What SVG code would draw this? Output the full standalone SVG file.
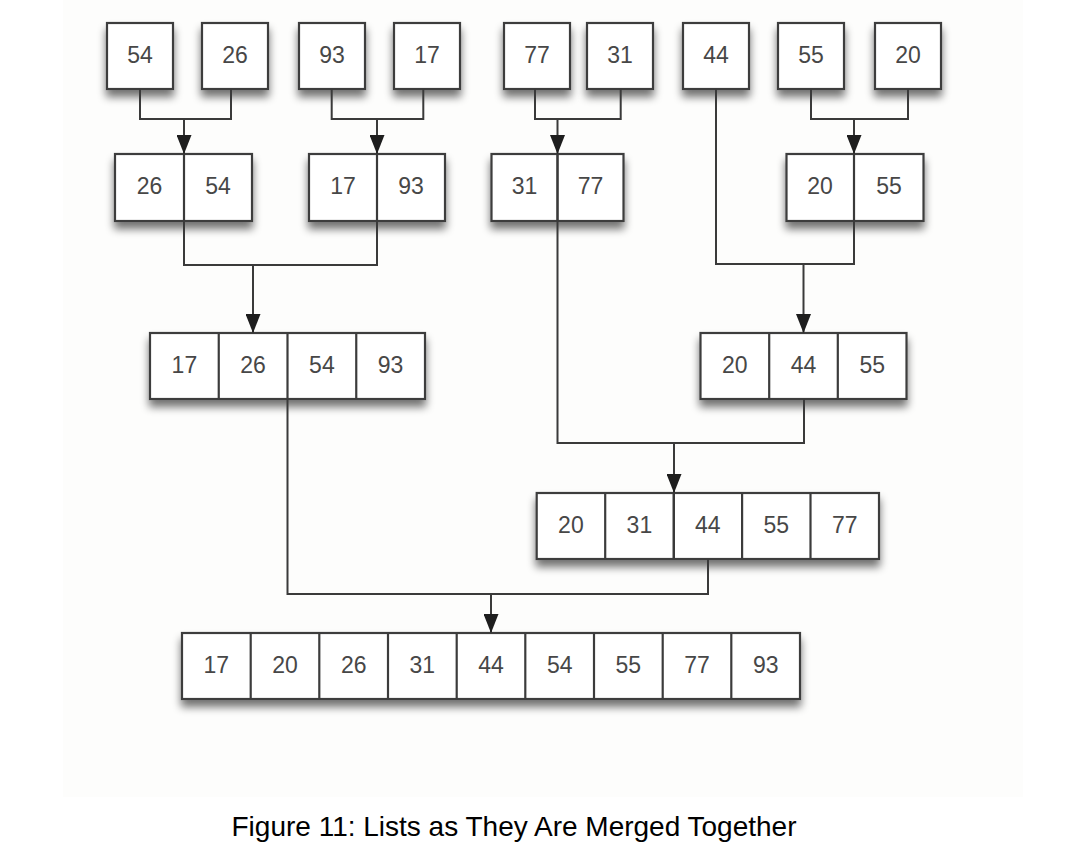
<svg xmlns="http://www.w3.org/2000/svg" width="1086" height="858" viewBox="0 0 1086 858">
<defs>
<style>
.box{fill:#ffffff;stroke:#3c3c3c;stroke-width:2.2;filter:url(#sh)}
.div{stroke:#3c3c3c;stroke-width:2.2}
.n{font-family:"Liberation Sans",Arial,sans-serif;font-size:23px;fill:#474747;text-anchor:middle}
.c{fill:none;stroke:#3a3a3a;stroke-width:2}
.cap{font-family:"Liberation Sans",Arial,sans-serif;font-size:28px;fill:#000000;text-anchor:middle}
</style>
<filter id="sh" x="-20%" y="-20%" width="140%" height="170%">
<feGaussianBlur in="SourceAlpha" stdDeviation="4.5"/>
<feOffset dy="7"/>
<feComponentTransfer><feFuncA type="linear" slope="0.55"/></feComponentTransfer>
<feMerge><feMergeNode/><feMergeNode in="SourceGraphic"/></feMerge>
</filter>
<marker id="arr" markerWidth="19" markerHeight="15" refX="19" refY="7.5" orient="auto" markerUnits="userSpaceOnUse" viewBox="0 0 19 15">
<path d="M0,0 L19,7.5 L0,15 z" fill="#1e1e1e"/>
</marker>
</defs>
<rect x="0" y="0" width="1086" height="858" fill="#ffffff"/>
<rect x="63" y="0" width="960" height="797" fill="#fdfdfc"/>

<g id="r1-54"><rect class="box" x="107" y="23" width="66" height="66"/><text class="n" x="140" y="63">54</text></g>
<g id="r1-26"><rect class="box" x="202" y="23" width="66" height="66"/><text class="n" x="235" y="63">26</text></g>
<g id="r1-93"><rect class="box" x="299" y="23" width="66" height="66"/><text class="n" x="332" y="63">93</text></g>
<g id="r1-17"><rect class="box" x="394" y="23" width="66" height="66"/><text class="n" x="427" y="63">17</text></g>
<g id="r1-77"><rect class="box" x="504" y="23" width="66" height="66"/><text class="n" x="537" y="63">77</text></g>
<g id="r1-31"><rect class="box" x="587" y="23" width="66" height="66"/><text class="n" x="620" y="63">31</text></g>
<g id="r1-44"><rect class="box" x="683" y="23" width="66" height="66"/><text class="n" x="716" y="63">44</text></g>
<g id="r1-55"><rect class="box" x="778" y="23" width="66" height="66"/><text class="n" x="811" y="63">55</text></g>
<g id="r1-20"><rect class="box" x="875" y="23" width="66" height="66"/><text class="n" x="908" y="63">20</text></g>

<g id="r2-26-54"><rect class="box" x="115" y="154" width="137" height="67"/><line class="div" x1="184" y1="154" x2="184" y2="221"/>
<text class="n" x="149.5" y="194">26</text><text class="n" x="218" y="194">54</text></g>
<g id="r2-17-93"><rect class="box" x="309" y="154" width="136" height="67"/><line class="div" x1="377" y1="154" x2="377" y2="221"/>
<text class="n" x="343" y="194">17</text><text class="n" x="411" y="194">93</text></g>
<g id="r2-31-77"><rect class="box" x="491.5" y="154" width="132" height="67"/><line class="div" x1="557.5" y1="154" x2="557.5" y2="221"/>
<text class="n" x="524.5" y="194">31</text><text class="n" x="590.5" y="194">77</text></g>
<g id="r2-20-55"><rect class="box" x="786.5" y="154" width="137" height="67"/><line class="div" x1="854" y1="154" x2="854" y2="221"/>
<text class="n" x="820" y="194">20</text><text class="n" x="889" y="194">55</text></g>

<g id="r3-left"><rect class="box" x="150" y="333" width="275" height="66"/>
<line class="div" x1="218.75" y1="333" x2="218.75" y2="399"/><line class="div" x1="287.5" y1="333" x2="287.5" y2="399"/><line class="div" x1="356.25" y1="333" x2="356.25" y2="399"/>
<text class="n" x="184.4" y="373">17</text><text class="n" x="253.1" y="373">26</text><text class="n" x="321.9" y="373">54</text><text class="n" x="390.6" y="373">93</text></g>
<g id="r3-right"><rect class="box" x="700.5" y="333" width="206" height="66"/>
<line class="div" x1="769.2" y1="333" x2="769.2" y2="399"/><line class="div" x1="837.8" y1="333" x2="837.8" y2="399"/>
<text class="n" x="734.8" y="373">20</text><text class="n" x="803.5" y="373">44</text><text class="n" x="872.2" y="373">55</text></g>

<g id="r4"><rect class="box" x="536.7" y="493" width="342.3" height="66"/>
<line class="div" x1="605.2" y1="493" x2="605.2" y2="559"/><line class="div" x1="673.6" y1="493" x2="673.6" y2="559"/><line class="div" x1="742.1" y1="493" x2="742.1" y2="559"/><line class="div" x1="810.5" y1="493" x2="810.5" y2="559"/>
<text class="n" x="570.9" y="533">20</text><text class="n" x="639.4" y="533">31</text><text class="n" x="707.8" y="533">44</text><text class="n" x="776.3" y="533">55</text><text class="n" x="844.8" y="533">77</text></g>

<g id="r5"><rect class="box" x="182" y="633" width="618" height="66"/>
<line class="div" x1="250.7" y1="633" x2="250.7" y2="699"/><line class="div" x1="319.3" y1="633" x2="319.3" y2="699"/><line class="div" x1="388" y1="633" x2="388" y2="699"/><line class="div" x1="456.7" y1="633" x2="456.7" y2="699"/><line class="div" x1="525.3" y1="633" x2="525.3" y2="699"/><line class="div" x1="594" y1="633" x2="594" y2="699"/><line class="div" x1="662.7" y1="633" x2="662.7" y2="699"/><line class="div" x1="731.3" y1="633" x2="731.3" y2="699"/>
<text class="n" x="216.3" y="673">17</text><text class="n" x="285" y="673">20</text><text class="n" x="353.7" y="673">26</text><text class="n" x="422.3" y="673">31</text><text class="n" x="491" y="673">44</text><text class="n" x="559.7" y="673">54</text><text class="n" x="628.3" y="673">55</text><text class="n" x="697" y="673">77</text><text class="n" x="765.7" y="673">93</text></g>

<g id="connectors">
<path class="c" d="M140,89 V119 H231 V89"/><path class="c" d="M184,119 V154" marker-end="url(#arr)"/>
<path class="c" d="M331.7,89 V119 H423.3 V89"/><path class="c" d="M377,119 V154" marker-end="url(#arr)"/>
<path class="c" d="M535,89 V119 H620.7 V89"/><path class="c" d="M557.5,119 V154" marker-end="url(#arr)"/>
<path class="c" d="M811,89 V119 H908 V89"/><path class="c" d="M854,119 V154" marker-end="url(#arr)"/>
<path class="c" d="M184,154 V265 H377 V154"/><path class="c" d="M253,265 V333" marker-end="url(#arr)"/>
<path class="c" d="M716,89 V264 H854 V154"/><path class="c" d="M803.5,264 V333" marker-end="url(#arr)"/>
<path class="c" d="M557.5,154 V443 H804 V399"/><path class="c" d="M674,443 V493" marker-end="url(#arr)"/>
<path class="c" d="M674,493 V559"/>
<path class="c" d="M287.5,399 V594 H708 V559"/><path class="c" d="M491,594 V633" marker-end="url(#arr)"/>
</g>

<text class="cap" x="514" y="836">Figure 11: Lists as They Are Merged Together</text>
</svg>
